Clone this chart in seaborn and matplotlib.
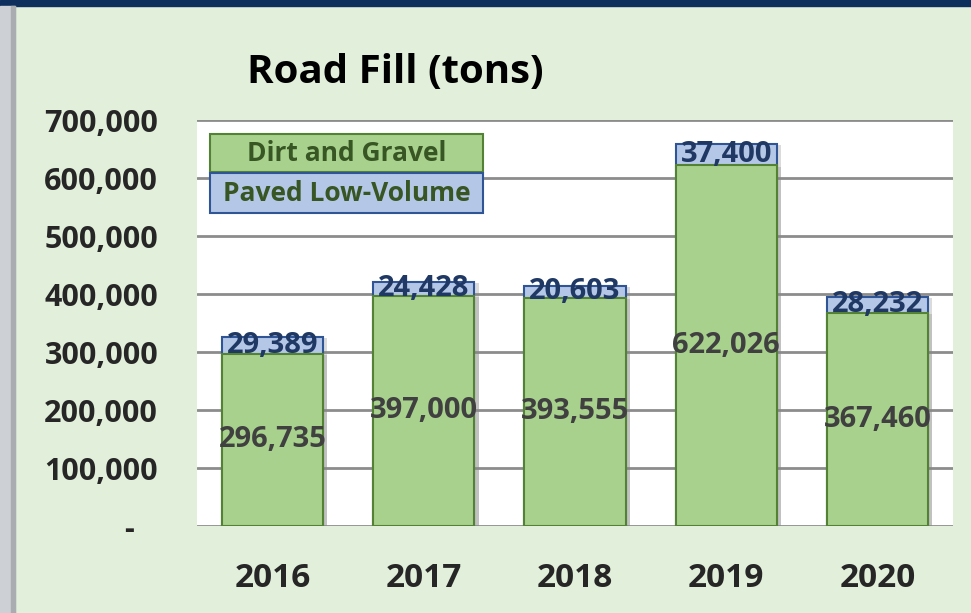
import numpy as np
import pandas as pd
import seaborn as sns
import matplotlib.pyplot as plt
from matplotlib.patches import Rectangle
import matplotlib.patheffects as pe

years = ["2016", "2017", "2018", "2019", "2020"]
dirt_gravel = [296735, 397000, 393555, 622026, 367460]
paved_lv = [29389, 24428, 20603, 37400, 28232]
y_ticks = [0, 100000, 200000, 300000, 400000, 500000, 600000, 700000]
y_ticklabels = ["-   ", "100,000", "200,000", "300,000", "400,000", "500,000", "600,000", "700,000"]

green = "#A9D18E"
green_edge = "#548235"
blue = "#B4C7E7"
blue_edge = "#2F5597"
bg = "#E2EFDA"

if __name__ == "__main__":
    sns.set_style("white")
    plt.rcParams["font.family"] = ["Open Sans", "DejaVu Sans"]

    df = pd.DataFrame({"year": years, "dg": dirt_gravel, "pv": paved_lv})
    df["total"] = df["dg"] + df["pv"]

    fig = plt.figure(figsize=(9.71, 6.13), dpi=100, facecolor=bg)
    ax = fig.add_axes([0.2029, 0.1419, 0.7786, 0.6623])
    ax.set_facecolor("white")

    # window chrome
    fig.patches.append(Rectangle((0, 0.99), 1, 0.01, transform=fig.transFigure,
                                 color="#0D2F5E", zorder=0))
    fig.patches.append(Rectangle((0, 0), 0.015, 0.99, transform=fig.transFigure,
                                 color="#CDD0D4", zorder=0))
    fig.patches.append(Rectangle((0.011, 0), 0.004, 0.99, transform=fig.transFigure,
                                 color="#A9ADB2", zorder=0))

    shadow = [pe.SimplePatchShadow(offset=(3, -1), shadow_rgbFace="#888888", alpha=0.3), pe.Normal()]
    sns.barplot(data=df, x="year", y="total", color=blue, saturation=1, width=0.67,
                edgecolor=blue_edge, linewidth=1.5, ax=ax, zorder=3)
    sns.barplot(data=df, x="year", y="dg", color=green, saturation=1, width=0.67,
                edgecolor=green_edge, linewidth=1.5, ax=ax, zorder=4)
    for p in ax.patches:
        p.set_path_effects(shadow)

    for i in range(len(years)):
        ax.text(i, dirt_gravel[i] / 2, f"{dirt_gravel[i]:,}", ha="center", va="center",
                fontsize=21, fontweight="bold", color="#404040", zorder=6)
        ax.text(i, dirt_gravel[i] + paved_lv[i] / 2, f"{paved_lv[i]:,}", ha="center", va="center",
                fontsize=21, fontweight="bold", color="#1F3864", zorder=6)

    ax.set_ylim(0, 700000)
    ax.set_xlim(-0.5, 4.5)
    ax.set_yticks(y_ticks)
    ax.set_yticklabels(y_ticklabels, fontsize=22, fontweight="bold")
    ax.set_xticklabels(years, fontsize=24, fontweight="bold")
    ax.tick_params(axis="x", length=0, pad=26)
    ax.tick_params(axis="y", length=0, pad=28)
    ax.yaxis.grid(True, color="#8C8C8C", linewidth=2, zorder=0)
    ax.set_axisbelow(True)
    for s in ax.spines.values():
        s.set_visible(False)
    ax.set_xlabel("")
    ax.set_ylabel("")

    # legend boxes
    ax.add_patch(Rectangle((0.0172, 0.872), 0.361, 0.0935, transform=ax.transAxes,
                           fc=green, ec=green_edge, lw=1.5, zorder=7))
    ax.add_patch(Rectangle((0.0172, 0.771), 0.361, 0.098, transform=ax.transAxes,
                           fc=blue, ec=blue_edge, lw=1.5, zorder=7))
    ax.text(0.198, 0.918, "Dirt and Gravel", transform=ax.transAxes, ha="center", va="center",
            fontsize=19, fontweight="bold", color="#375623", zorder=8)
    ax.text(0.198, 0.82, "Paved Low-Volume", transform=ax.transAxes, ha="center", va="center",
            fontsize=19, fontweight="bold", color="#375623", zorder=8)

    fig.text(0.407, 0.882, "Road Fill (tons)", ha="center", va="center",
             fontsize=29, fontweight="bold", color="black")

    plt.savefig("out.png", dpi=100, facecolor=bg)
